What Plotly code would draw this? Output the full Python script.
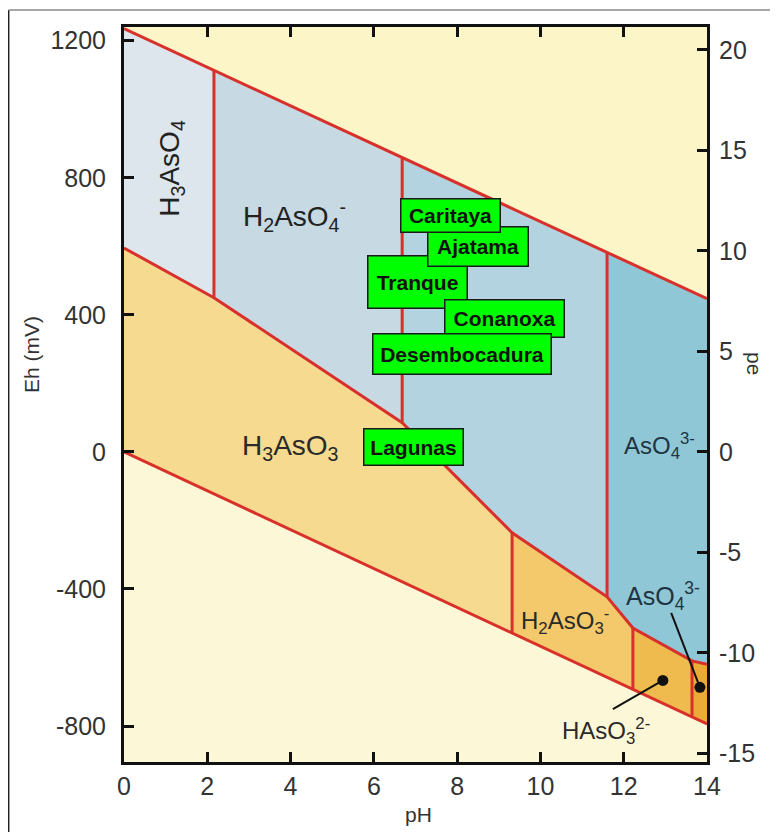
import plotly.graph_objects as go

# ---------------- data ----------------
# upper water-stability line (O2/H2O), points at the vertical boundaries
upper_ph = [0, 2.16, 6.68, 11.6, 14]
upper_eh = [1235, 1113, 859, 582, 447]
# lower water-stability line (H2O/H2)
lower_ph = [0, 9.32, 12.22, 13.64, 14]
lower_eh = [0, -528, -692, -773, -794]
# As(V)/As(III) boundary chain
redox_ph = [0, 2.16, 6.68, 9.32, 11.6, 12.22, 13.64, 14]
redox_eh = [595, 450, 85, -236, -423, -514, -610, -620]

eh_range = [-905, 1240]
mv_per_pe = 58.65

sample_names = ["Tranque", "Ajatama", "Caritaya", "Conanoxa", "Desembocadura", "Lagunas"]
sample_ph = [7.04, 8.50, 7.85, 9.13, 8.12, 6.94]
sample_eh = [496, 599, 689, 388, 286, 15]

dot_ph = [12.94, 13.83]
dot_eh = [-667, -687]
leader_ph = [11.74, 13.14]
leader_eh = [-751, -470]

x_ticks = [0, 2, 4, 6, 8, 10, 12, 14]
eh_ticks = [-800, -400, 0, 400, 800, 1200]
eh_labels = ["-800", "-400", "0", "400", "800", "1200"]
pe_ticks = [-15, -10, -5, 0, 5, 10, 15, 20]
pe_labels = ["-15", "-10", "-5", "0", "5", "10", "15", "20"]

# ---------------- figure ----------------
OFF = 8                     # page offset of the plot div
W, H = 762, 824
L, T = 124 - OFF, 27 - OFF
PW, PH = 583, 735
R, B = W - L - PW, H - T - PH
RED = "#D8302A"
FONT = "Liberation Sans"
TXT = "#333333"

def U(i): return (upper_ph[i], upper_eh[i])
def Lo(i): return (lower_ph[i], lower_eh[i])
def Rx(i): return (redox_ph[i], redox_eh[i])

regions = [
    ([Lo(0), Lo(1), Lo(2), Lo(3), Lo(4), (14, eh_range[0]), (0, eh_range[0])], "#FCF8D7"),
    ([U(0), U(1), Rx(1), Rx(0)], "#DDE6EC"),
    ([U(1), U(2), Rx(2), Rx(1)], "#C7D9E3"),
    ([U(2), U(3), Rx(4), Rx(3), Rx(2)], "#B2D3DF"),
    ([U(3), U(4), Rx(7), Rx(6), Rx(5), Rx(4)], "#90C7D7"),
    ([Rx(0), Rx(1), Rx(2), Rx(3), Lo(1), Lo(0)], "#F6DA90"),
    ([Rx(3), Rx(4), Rx(5), Lo(2), Lo(1)], "#F3C96B"),
    ([Rx(5), Rx(6), Lo(3), Lo(2)], "#EFBB4F"),
    ([Rx(6), Rx(7), Lo(4), Lo(3)], "#EBAB37"),
]

fig = go.Figure()
for pts, col in regions:
    xs = [p[0] for p in pts] + [pts[0][0]]
    ys = [p[1] for p in pts] + [pts[0][1]]
    fig.add_trace(go.Scatter(x=xs, y=ys, mode="lines", fill="toself",
                             fillcolor=col, line=dict(width=0), hoverinfo="skip",
                             showlegend=False))

# red boundary lines
lines = [
    ([upper_ph[0], upper_ph[-1]], [upper_eh[0], upper_eh[-1]]),
    ([lower_ph[0], lower_ph[-1]], [lower_eh[0], lower_eh[-1]]),
    (redox_ph, redox_eh),
    ([redox_ph[1], upper_ph[1]], [redox_eh[1], upper_eh[1]]),
    ([redox_ph[2], upper_ph[2]], [redox_eh[2], upper_eh[2]]),
    ([redox_ph[4], upper_ph[3]], [redox_eh[4], upper_eh[3]]),
    ([redox_ph[3], lower_ph[1]], [redox_eh[3], lower_eh[1]]),
    ([redox_ph[5], lower_ph[2]], [redox_eh[5], lower_eh[2]]),
    ([redox_ph[6], lower_ph[3]], [redox_eh[6], lower_eh[3]]),
]
for xs, ys in lines:
    fig.add_trace(go.Scatter(x=xs, y=ys, mode="lines", line=dict(color=RED, width=3),
                             hoverinfo="skip", showlegend=False))

# leader lines and dots
for i in range(len(dot_ph)):
    fig.add_trace(go.Scatter(x=[leader_ph[i], dot_ph[i]], y=[leader_eh[i], dot_eh[i]],
                             mode="lines", line=dict(color="#111111", width=2),
                             hoverinfo="skip", showlegend=False))
fig.add_trace(go.Scatter(x=dot_ph, y=dot_eh, mode="markers",
                         marker=dict(color="#111111", size=11), hoverinfo="skip",
                         showlegend=False))

# dummy trace for the pe axis
fig.add_trace(go.Scatter(x=[0], y=[0], yaxis="y2", mode="markers",
                         marker=dict(opacity=0), hoverinfo="skip", showlegend=False))

# species labels
species = [
    ("H<sub>3</sub>AsO<sub>4</sub>", 1.15, 829, 28, -90, "#222222"),
    ("H<sub>2</sub>AsO<sub>4</sub><sup>-</sup>", 4.1, 689, 28, 0, "#222222"),
    ("H<sub>3</sub>AsO<sub>3</sub>", 4.0, 12, 28, 0, "#2a2a2a"),
    ("AsO<sub>4</sub><sup>3-</sup>", 12.85, 18, 24, 0, "#1f3442"),
    ("H<sub>2</sub>AsO<sub>3</sub><sup>-</sup>", 10.6, -493, 24, 0, "#2a2a2a"),
    ("AsO<sub>4</sub><sup>3-</sup>", 12.95, -420, 25, 0, "#1f3442"),
    ("HAsO<sub>3</sub><sup>2-</sup>", 11.58, -815, 24, 0, "#2a2a2a"),
]
ann = []
for txt, x, y, sz, ang, col in species:
    ann.append(dict(text=txt, x=x, y=y, xref="x", yref="y", showarrow=False,
                    xanchor="center", yanchor="middle",
                    textangle=ang, font=dict(family=FONT, size=sz, color=col)))

box_w = [102, 103, 102, 122, 181, 102]
box_h = [55, 42, 36, 40, 43, 39]
for i, name in enumerate(sample_names):
    ann.append(dict(text="<b>" + name + "</b>", x=sample_ph[i], y=sample_eh[i],
                    xref="x", yref="y", showarrow=False, width=box_w[i] - 4,
                    height=box_h[i] - 4, align="center", valign="middle",
                    xanchor="center", yanchor="middle",
                    bgcolor="#00FF00", bordercolor="#1a1a1a", borderwidth=1.5,
                    borderpad=0, font=dict(family=FONT, size=21, color="#111111")))

def px_x(p): return (p - OFF - L) / PW
def px_y(p): return (T + PH - (p - OFF)) / PH

ann.append(dict(text="Eh (mV)", x=px_x(31), y=px_y(355), xref="paper", yref="paper",
                xanchor="center", yanchor="middle",
                showarrow=False, textangle=-90, font=dict(family=FONT, size=21, color=TXT)))
ann.append(dict(text="pH", x=px_x(418), y=px_y(815), xref="paper", yref="paper",
                xanchor="center", yanchor="middle",
                showarrow=False, font=dict(family=FONT, size=21, color=TXT)))
ann.append(dict(text="pe", x=px_x(755), y=px_y(363), xref="paper", yref="paper",
                xanchor="center", yanchor="middle",
                showarrow=False, textangle=90, font=dict(family=FONT, size=21, color=TXT)))

shapes = [
    dict(type="line", xref="paper", yref="paper", x0=px_x(8.7), x1=px_x(8.7),
         y0=px_y(10), y1=px_y(850), line=dict(color="#222222", width=1.5)),
    dict(type="line", xref="paper", yref="paper", x0=px_x(8.7), x1=px_x(800),
         y0=px_y(10), y1=px_y(10), line=dict(color="#888888", width=1.5)),
]

axis_common = dict(showline=True, linecolor="#111111", linewidth=3, ticks="inside",
                   ticklen=10, tickwidth=2.5, tickcolor="#111111", showgrid=False,
                   zeroline=False, tickfont=dict(family=FONT, size=25, color=TXT))

fig.update_layout(
    width=W, height=H, margin=dict(l=L, r=R, t=T, b=B),
    paper_bgcolor="white", plot_bgcolor="#FCF5C8",
    showlegend=False, annotations=ann, shapes=shapes,
    xaxis=dict(range=[0, 14], tickvals=x_ticks, mirror="ticks", **axis_common),
    yaxis=dict(range=eh_range, tickvals=eh_ticks, ticktext=eh_labels,
               ticklabelstandoff=10, **axis_common),
    yaxis2=dict(range=[eh_range[0] / mv_per_pe, eh_range[1] / mv_per_pe],
                tickvals=pe_ticks, ticktext=pe_labels, overlaying="y", side="right",
                ticklabelstandoff=4, **axis_common),
)

fig.write_html("out.html")
